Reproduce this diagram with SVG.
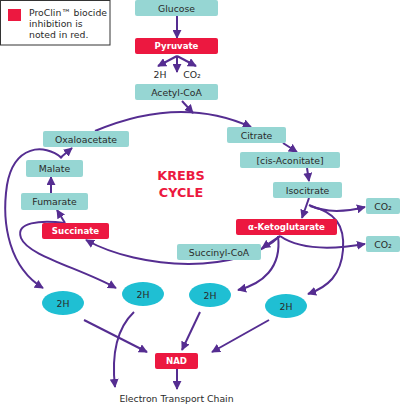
<svg xmlns="http://www.w3.org/2000/svg" width="400" height="406" viewBox="0 0 400 406">
<style>
.t{fill:#96d6d3}
.r{fill:#ec1840}
.e{fill:#1fbfd3}
.lbl{font-family:"DejaVu Sans",Verdana,sans-serif;font-size:9.3px;fill:#2a2a2a;text-anchor:middle}
.lg{font-family:"DejaVu Sans",Verdana,sans-serif;font-size:9.3px;fill:#2a2a2a}
.wl{font-family:"DejaVu Sans",Verdana,sans-serif;font-size:8.6px;font-weight:bold;fill:#fff;text-anchor:middle}
.c{fill:none;stroke:#552d91;stroke-width:2}
.big{font-family:"DejaVu Sans",Verdana,sans-serif;font-size:12.8px;font-weight:bold;fill:#ec1840;text-anchor:middle}
</style>
<defs>
<marker id="ah" viewBox="0 0 10 10" refX="9" refY="5" markerWidth="9" markerHeight="9" markerUnits="userSpaceOnUse" orient="auto">
<path d="M0,0 L10,5 L0,10 z" fill="#552d91"/>
</marker>
</defs>
<rect width="400" height="406" fill="#fff"/>
<g id="legend">
<rect x="0.5" y="0.5" width="109.5" height="44.5" fill="#fff" stroke="#333" stroke-width="1"/>
<rect x="8" y="9" width="13" height="12" class="r"/>
<text x="29" y="16" class="lg">ProClin™ biocide</text>
<text x="29" y="27" class="lg">inhibition is</text>
<text x="29" y="38" class="lg">noted in red.</text>
</g>
<g id="connectors">
<path class="c" d="M177,16 L177,38" marker-end="url(#ah)"/>
<path class="c" d="M177,56 L158,66" marker-end="url(#ah)"/>
<path class="c" d="M177,56 L177,72" marker-end="url(#ah)"/>
<path class="c" d="M177,56 L196,66" marker-end="url(#ah)"/>
<path class="c" d="M182,101 L193,113" marker-end="url(#ah)"/>
<path class="c" d="M95,131 Q180,95 251,127" marker-end="url(#ah)"/>
<path class="c" d="M283,143 L297,152" marker-end="url(#ah)"/>
<path class="c" d="M307,168 L309,181" marker-end="url(#ah)"/>
<path class="c" d="M309,198 L302,218" marker-end="url(#ah)"/>
<path class="c" d="M309,205 C325,213 345,212 365,207" marker-end="url(#ah)"/>
<path class="c" d="M310,206 C335,212 345,225 343,250 C341,275 328,287 308,294" marker-end="url(#ah)"/>
<path class="c" d="M280,236 L262,248" marker-end="url(#ah)"/>
<path class="c" d="M280,236 C300,250 330,250 365,244" marker-end="url(#ah)"/>
<path class="c" d="M278,236 C282,268 262,284 238,290" marker-end="url(#ah)"/>
<path class="c" d="M280,236 C240,275 140,270 86,240" marker-end="url(#ah)"/>
<path class="c" d="M65,223 L57,210" marker-end="url(#ah)"/>
<path class="c" d="M51,193 L51,177" marker-end="url(#ah)"/>
<path class="c" d="M60,158 L72,148" marker-end="url(#ah)"/>
<path class="c" d="M62,158 C44,143 14,145 7,185 C1,225 10,268 43,288" marker-end="url(#ah)"/>
<path class="c" d="M65,223 C40,220 15,222 21,238 C28,256 80,268 116,288" marker-end="url(#ah)"/>
<path class="c" d="M84,320 L147,352" marker-end="url(#ah)"/>
<path class="c" d="M134,312 C115,330 112,360 115,387" marker-end="url(#ah)"/>
<path class="c" d="M200,312 L182,350" marker-end="url(#ah)"/>
<path class="c" d="M269,320 L212,352" marker-end="url(#ah)"/>
<path class="c" d="M177,369 L177,389" marker-end="url(#ah)"/>
</g>
<g id="glucose"><rect x="135" y="0" width="83" height="16" rx="2" class="t"/><text x="176.5" y="11.5" class="lbl">Glucose</text></g>
<g id="pyruvate"><rect x="135" y="38" width="83" height="16" rx="2" class="r"/><text x="176.5" y="49.3" class="wl">Pyruvate</text></g>
<g id="pyr-products"><text x="160" y="78" class="lbl">2H</text><text x="192" y="78" class="lbl">CO₂</text></g>
<g id="acetylcoa"><rect x="135" y="84" width="83" height="16" rx="2" class="t"/><text x="176.5" y="95.5" class="lbl">Acetyl-CoA</text></g>
<g id="citrate"><rect x="227" y="127" width="59" height="16" rx="2" class="t"/><text x="256.5" y="138.5" class="lbl">Citrate</text></g>
<g id="cisaconitate"><rect x="240" y="152" width="100" height="16" rx="2" class="t"/><text x="290" y="163.5" class="lbl">[cis-Aconitate]</text></g>
<g id="isocitrate"><rect x="273" y="182" width="69" height="16" rx="2" class="t"/><text x="307.5" y="193.5" class="lbl">Isocitrate</text></g>
<g id="co2a"><rect x="366" y="198" width="34" height="16" rx="2" class="t"/><text x="383" y="209.5" class="lbl">CO₂</text></g>
<g id="ketoglutarate"><rect x="236" y="219" width="101" height="16" rx="2" class="r"/><text x="286.5" y="230.3" class="wl">α-Ketoglutarate</text></g>
<g id="co2b"><rect x="366" y="236" width="34" height="16" rx="2" class="t"/><text x="383" y="247.5" class="lbl">CO₂</text></g>
<g id="succinylcoa"><rect x="177" y="244" width="84" height="16" rx="2" class="t"/><text x="219" y="255.5" class="lbl">Succinyl-CoA</text></g>
<g id="succinate"><rect x="42" y="223" width="67" height="16" rx="2" class="r"/><text x="75.5" y="234.3" class="wl">Succinate</text></g>
<g id="fumarate"><rect x="21" y="193" width="67" height="17" rx="2" class="t"/><text x="54.5" y="204.8" class="lbl">Fumarate</text></g>
<g id="malate"><rect x="26" y="160" width="57" height="17" rx="2" class="t"/><text x="54.5" y="171.8" class="lbl">Malate</text></g>
<g id="oxaloacetate"><rect x="43" y="131" width="86" height="16" rx="2" class="t"/><text x="86" y="142.5" class="lbl">Oxaloacetate</text></g>
<g id="krebs"><text x="181" y="180" class="big">KREBS</text><text x="181" y="197" class="big">CYCLE</text></g>
<g id="h1"><ellipse cx="63" cy="303" rx="21" ry="12" class="e"/><text x="63" y="306.5" class="lbl">2H</text></g>
<g id="h2"><ellipse cx="143" cy="294" rx="21" ry="12" class="e"/><text x="143" y="297.5" class="lbl">2H</text></g>
<g id="h3"><ellipse cx="210" cy="295" rx="21" ry="12" class="e"/><text x="210" y="298.5" class="lbl">2H</text></g>
<g id="h4"><ellipse cx="286" cy="306" rx="21" ry="12" class="e"/><text x="286" y="309.5" class="lbl">2H</text></g>
<g id="nad"><rect x="155" y="353" width="43" height="16" rx="2" class="r"/><text x="176.5" y="364.3" class="wl">NAD</text></g>
<g id="etc"><text x="176.5" y="402" class="lbl">Electron Transport Chain</text></g>
</svg>
